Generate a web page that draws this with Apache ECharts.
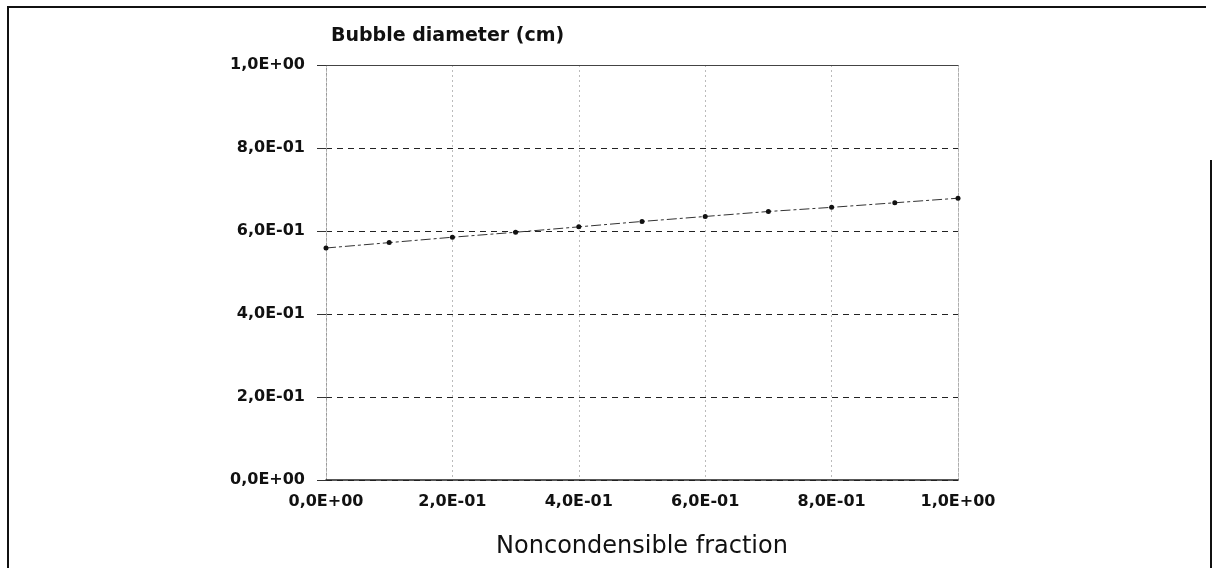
<!DOCTYPE html>
<html>
<head>
<meta charset="utf-8">
<script src="https://cdn.jsdelivr.net/npm/echarts@6/dist/echarts.min.js"></script>
<style>
html,body{margin:0;padding:0;background:#fff;}
#chart{width:1214px;height:568px;}
</style>
</head>
<body>
<div id="chart"></div>
<script>
// Data
var fractions = [0.0, 0.1, 0.2, 0.3, 0.4, 0.5, 0.6, 0.7, 0.8, 0.9, 1.0];
var diameters = [0.559, 0.572, 0.585, 0.597, 0.610, 0.623, 0.635, 0.647, 0.657, 0.668, 0.679];
var xTickLabels = ['0,0E+00', '2,0E-01', '4,0E-01', '6,0E-01', '8,0E-01', '1,0E+00'];
var yTickLabels = ['0,0E+00', '2,0E-01', '4,0E-01', '6,0E-01', '8,0E-01', '1,0E+00'];
var titleText = 'Bubble diameter (cm)';
var xName = 'Noncondensible fraction';

var points = fractions.map(function (f, i) { return [f, diameters[i]]; });
var tickFont = { fontFamily: 'DejaVu Sans', fontWeight: 'bold', fontSize: 16, color: '#111' };

var chart = echarts.init(document.getElementById('chart'), null, { renderer: 'canvas' });
chart.setOption({
  animation: false,
  backgroundColor: '#fff',
  title: {
    text: titleText,
    left: 326,
    top: 22,
    textStyle: { fontFamily: 'DejaVu Sans', fontWeight: 'bold', fontSize: 19, color: '#111' }
  },
  grid: { left: 326, right: 256, top: 65, bottom: 88, containLabel: false },
  xAxis: [{
    type: 'value', min: 0, max: 1, interval: 0.2,
    name: xName, nameLocation: 'middle', nameGap: 55,
    nameTextStyle: { fontFamily: 'DejaVu Sans', fontSize: 24, color: '#111' },
    axisLine: { show: true, onZero: false, lineStyle: { color: '#222', width: 1.5 } },
    axisTick: { show: false },
    axisLabel: Object.assign({ margin: 14, formatter: function (v) { return xTickLabels[Math.round(v / 0.2)]; } }, tickFont),
    splitLine: { show: true, lineStyle: { color: '#bbb', type: [2, 3], width: 1 } }
  }, {
    type: 'value', min: 0, max: 1, position: 'top',
    axisLine: { show: true, onZero: false, lineStyle: { color: '#444', width: 1.2 } },
    axisTick: { show: false }, axisLabel: { show: false }, splitLine: { show: false }
  }],
  yAxis: [{
    type: 'value', min: 0, max: 1, interval: 0.2,
    axisLine: { show: true, onZero: false, lineStyle: { color: '#999', type: [2, 3], width: 1 } },
    axisTick: { show: true, inside: false, length: 9, lineStyle: { color: '#333', width: 1 } },
    axisLabel: Object.assign({ margin: 21, formatter: function (v) { return yTickLabels[Math.round(v / 0.2)]; } }, tickFont),
    splitLine: { show: true, lineStyle: { color: '#222', type: [6, 5], width: 1 } }
  }, {
    type: 'value', min: 0, max: 1, position: 'right',
    axisLine: { show: true, onZero: false, lineStyle: { color: '#aaa', type: [2, 3], width: 1 } },
    axisTick: { show: false }, axisLabel: { show: false }, splitLine: { show: false }
  }],
  series: [{
    type: 'line',
    xAxisIndex: 0, yAxisIndex: 0,
    data: points,
    symbol: 'circle',
    symbolSize: 5,
    itemStyle: { color: '#111' },
    lineStyle: { color: '#333', width: 1, type: [10, 3, 3, 3] },
    z: 5
  }],
  graphic: [{
    type: 'polyline',
    shape: { points: [[8, 600], [8, 7], [1206, 7]] },
    style: { stroke: '#111', lineWidth: 2, fill: null }
  }, {
    type: 'line',
    shape: { x1: 1211, y1: 160, x2: 1211, y2: 600 },
    style: { stroke: '#111', lineWidth: 2 }
  }]
});
</script>
</body>
</html>
